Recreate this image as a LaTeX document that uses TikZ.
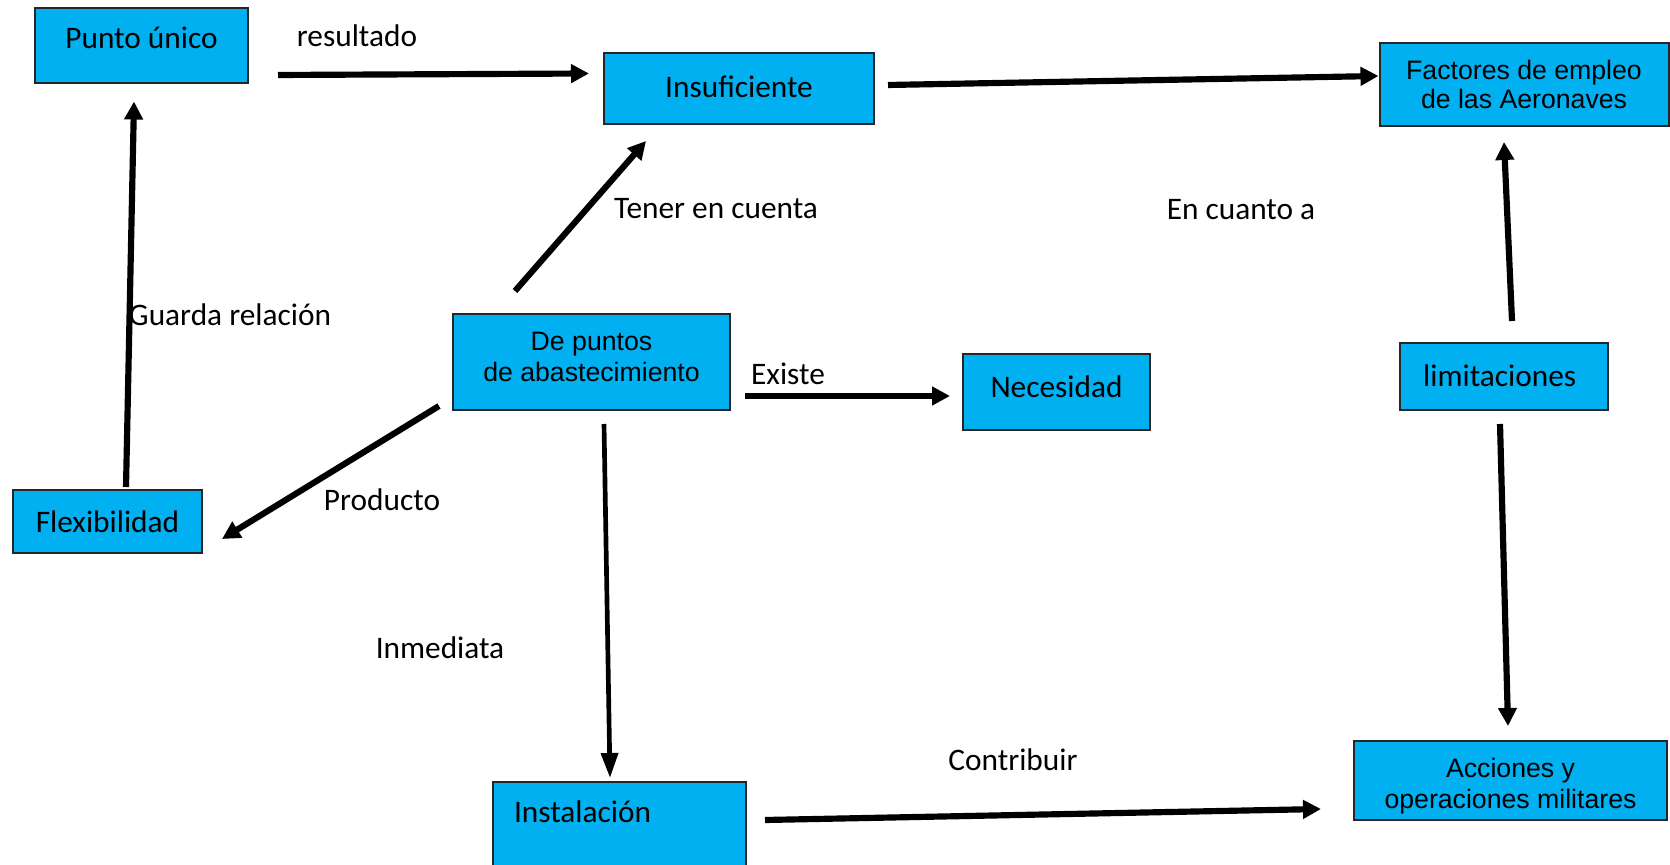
\documentclass[tikz,border=0pt]{standalone}
\usepackage{fontspec}
\setmainfont{Carlito}
\newfontfamily\arialfont{Liberation Sans}
\usepackage{tikz}
\usetikzlibrary{arrows.meta,shapes}
\definecolor{boxblue}{HTML}{00B0F0}
\tikzstyle{concept}=[draw=black!85,line width=0.6pt,fill=boxblue,inner sep=0pt,font=\fontsize{9.4}{11}\selectfont]
\tikzstyle{arial concept}=[concept,align=center,font=\arialfont\fontsize{8}{9.3}\selectfont]
\tikzstyle{link}=[draw,line width=1.85pt,-{Triangle[length=5.4pt,width=5.4pt]}]
\tikzstyle{thin link}=[draw,line width=1.4pt,-{Triangle[length=7.5pt,width=5pt]}]
\tikzstyle{tag}=[font=\fontsize{9.4}{11}\selectfont]
\newcommand{\lowstrut}{\rule[-3.2pt]{0pt}{3.2pt}}
\newcommand{\highstrut}{\rule{0pt}{9pt}}

\begin{document}
\begin{tikzpicture}[x=0.3pt,y=-0.3pt]
    \useasboundingbox (0,0) rectangle (1670,865);
    % boxes
    \node[concept,minimum width=63.9pt,minimum height=22.5pt,text depth=5pt] (punto) at (141.5,46) {Punto único};
    \node[concept,minimum width=81pt,minimum height=21.3pt,text depth=1.3pt] (insuf) at (739,88.5) {Insuficiente};
    \node[arial concept,minimum width=86.7pt,minimum height=24.9pt,font=\arialfont\fontsize{8}{8.8}\selectfont] (factores) at (1524,84.5) {Factores de empleo\\de las Aeronaves};
    \node[arial concept,minimum width=83.1pt,minimum height=28.8pt] (puntos) at (591.5,362) {De puntos\\de abastecimiento\lowstrut};
    \node[concept,minimum width=56.1pt,minimum height=22.8pt,text depth=3.2pt] (necesidad) at (1056.5,392) {Necesidad};
    \node[concept,minimum width=62.4pt,minimum height=20.1pt,text depth=0.6pt] (limit) at (1504,376.5) {\hspace*{-2.6pt}limitaciones};
    \node[concept,minimum width=56.7pt,minimum height=18.9pt] (flex) at (107.5,521.5) {Flexibilidad};
    \node[concept,anchor=north west,text width=63.3pt,inner xsep=6.3pt,inner ysep=5.6pt,text depth=30pt,align=left] (instal) at (492,781) {Instalación};
    \node[arial concept,minimum width=93.9pt,minimum height=23.7pt] (acciones) at (1510.5,780.5) {\highstrut Acciones y\\operaciones militares};
    % labels
    \foreach \pos/\name/\txt in {{(357,36)/res/resultado}, {(716,209)/ten/Tener en cuenta},
        {(1241,210)/cuanto/En cuanto a}, {(230,315)/guarda/Guarda relación}, {(788,374)/existe/Existe},
        {(382,500)/prod/Producto}, {(440,648)/inmed/Inmediata}, {(1013,760)/contrib/Contribuir}}
        \node[tag] (\name) at \pos {\txt};
    % connectors
    \path[link] ([shift={(29,29)}]punto.east) -- ([shift={(-14,-15)}]insuf.west);
    \path[link] ([shift={(13,-3.5)}]insuf.east) -- ([shift={(0,-8.5)}]factores.west);
    \path[link] ([shift={(-76.5,-22)}]puntos.north) -- ([shift={(43,16)}]insuf.south west);
    \path[link] ([shift={(18.5,-2)}]flex.north) -- ([shift={(-7.5,17)}]punto.south);
    \path[link] ([shift={(-13,-5)}]puntos.south west) -- ([shift={(19,17.5)}]flex.east);
    \path[link] ([shift={(14,34)}]puntos.east) -- ([shift={(-12,4)}]necesidad.west);
    \path[thin link] ([shift={(12.5,13)}]puntos.south) -- ([shift={(-9.5,-3)}]instal.north);
    \path[link] ([shift={(8,-21)}]limit.north) -- ([shift={(-20,15)}]factores.south);
    \path[link] ([shift={(-4,13)}]limit.south) -- ([shift={(-2.5,-14)}]acciones.north);
    \path[link] ([shift={(18,39)}]instal.north east) -- ([shift={(-32,28.5)}]acciones.west);
\end{tikzpicture}
\end{document}
